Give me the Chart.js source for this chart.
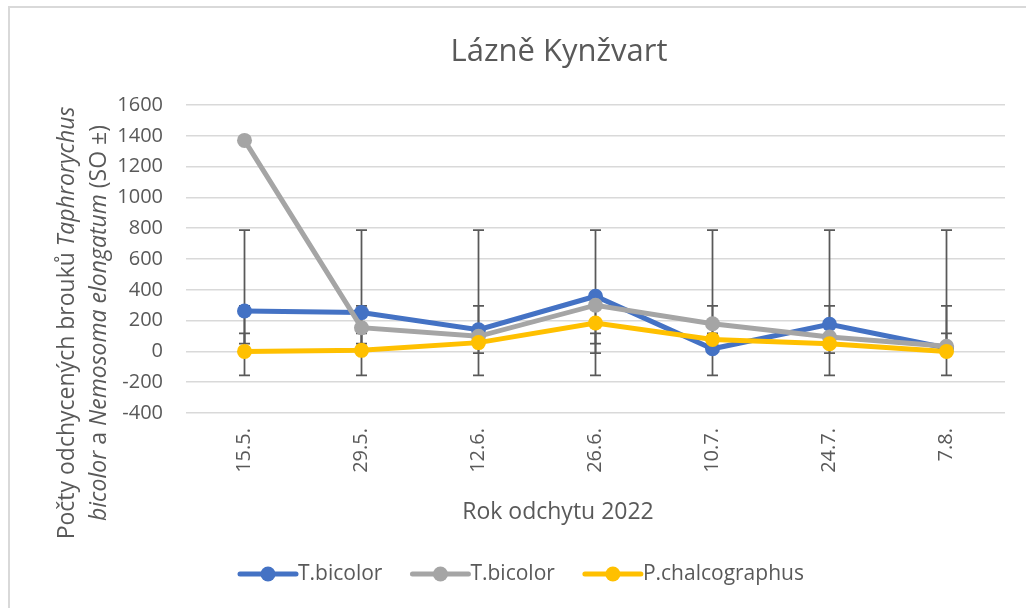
<!DOCTYPE html>
<html>
<head>
<meta charset="utf-8">
<script src="https://cdn.jsdelivr.net/npm/chart.js@4"></script>
<style>
  html, body { margin: 0; padding: 0; background: #fff; }
  #wrap { width: 1026px; height: 608px; }
</style>
</head>
<body>
<div id="wrap"><canvas id="chart"></canvas></div>
<script>
const labels = ['15.5.', '29.5.', '12.6.', '26.6.', '10.7.', '24.7.', '7.8.'];
const seriesNames = ['T.bicolor', 'T.bicolor', 'P.chalcographus'];
const blueValues = [262, 252, 141, 358, 17, 176, 22];
const grayValues = [1370, 154, 98, 300, 180, 93, 33];
const yellowValues = [0, 7, 57, 184, 78, 50, 0];
// error bar ranges (mean -/+ SD of each series), low / high
const blueErr = [50, 296];
const grayErr = [-156, 788];
const yellowErr = [-11, 117];
const yTicks = [-400, 1600, 200]; // min, max, step

const colors = ['#4472C4', '#A5A5A5', '#FFC000'];
const textColor = '#595959';
const FONT = '"Open Sans", sans-serif';

// draws error bars under the lines
const errorBars = {
    id: 'errorBars',
    beforeDatasetsDraw(chart) {
        const ctx = chart.ctx;
        const x = chart.scales.x, y = chart.scales.y;
        ctx.save();
        ctx.strokeStyle = '#595959';
        ctx.lineWidth = 1.75;
        [blueErr, grayErr, yellowErr].forEach(function (err) {
            labels.forEach(function (l, i) {
                const px = x.getPixelForValue(i);
                const lo = y.getPixelForValue(err[0]);
                const hi = y.getPixelForValue(err[1]);
                ctx.beginPath();
                ctx.moveTo(px, lo); ctx.lineTo(px, hi);
                ctx.moveTo(px - 5.5, lo); ctx.lineTo(px + 5.5, lo);
                ctx.moveTo(px - 5.5, hi); ctx.lineTo(px + 5.5, hi);
                ctx.stroke();
            });
        });
        ctx.restore();
    }
};

// titles, legend and frame
const decorations = {
    id: 'decorations',
    afterDraw(chart) {
        const ctx = chart.ctx;
        ctx.save();

        // frame
        ctx.strokeStyle = '#d9d9d9';
        ctx.lineWidth = 2;
        ctx.beginPath();
        ctx.moveTo(9, 608); ctx.lineTo(9, 7); ctx.lineTo(1026, 7);
        ctx.stroke();

        ctx.fillStyle = textColor;
        ctx.textBaseline = 'middle';
        ctx.textAlign = 'center';
        ctx.font = '31px ' + FONT;
        ctx.fillText('Lázně Kynžvart', 559, 52);

        ctx.font = '23px ' + FONT;
        ctx.fillText('Rok odchytu 2022', 558, 512);

        // y axis title, mixed upright / italic
        const lines = [
            [['Počty odchycených brouků ', false], ['Taphrorychus', true]],
            [['bicolor', true], [' a ', false], ['Nemosoma elongatum', true], [' (SO ±)', false]]
        ];
        const fontFor = function (it) { return (it ? 'italic ' : '') + '23px ' + FONT; };
        ctx.textAlign = 'left';
        [67, 99].forEach(function (lx, li) {
            const parts = lines[li];
            let total = 0;
            parts.forEach(function (p) { ctx.font = fontFor(p[1]); total += ctx.measureText(p[0]).width; });
            ctx.save();
            ctx.translate(lx, 323);
            ctx.rotate(-Math.PI / 2);
            let cx = -total / 2;
            parts.forEach(function (p) {
                ctx.font = fontFor(p[1]);
                ctx.fillText(p[0], cx, 0);
                cx += ctx.measureText(p[0]).width;
            });
            ctx.restore();
        });

        // legend
        ctx.font = '21px ' + FONT;
        let lx = 240;
        const ly = 574;
        seriesNames.forEach(function (name, i) {
            ctx.strokeStyle = colors[i];
            ctx.lineWidth = 5;
            ctx.lineCap = 'round';
            ctx.beginPath();
            ctx.moveTo(lx, ly); ctx.lineTo(lx + 56, ly);
            ctx.stroke();
            ctx.fillStyle = colors[i];
            ctx.beginPath();
            ctx.arc(lx + 28, ly, 7.5, 0, Math.PI * 2);
            ctx.fill();
            ctx.fillStyle = textColor;
            ctx.fillText(name, lx + 58, ly);
            lx += 58 + ctx.measureText(name).width + 30;
        });
        ctx.restore();
    }
};

function makeDataset(label, data, color, order) {
    return {
        label: label,
        data: data,
        borderColor: color,
        backgroundColor: color,
        borderWidth: 5,
        pointRadius: 7.5,
        pointHoverRadius: 7.5,
        pointBorderWidth: 0,
        tension: 0,
        order: order
    };
}

new Chart(document.getElementById('chart'), {
    type: 'line',
    data: {
        labels: labels,
        datasets: [
            makeDataset(seriesNames[0], blueValues, colors[0], 3),
            makeDataset(seriesNames[1], grayValues, colors[1], 2),
            makeDataset(seriesNames[2], yellowValues, colors[2], 1)
        ]
    },
    options: {
        responsive: true,
        maintainAspectRatio: false,
        animation: false,
        layout: { padding: { top: 105, right: 21, bottom: 0, left: 0 } },
        plugins: {
            legend: { display: false },
            title: { display: false },
            tooltip: { enabled: false }
        },
        scales: {
            x: {
                offset: true,
                grid: { display: false, drawTicks: false },
                border: { display: false },
                ticks: {
                    autoSkip: false,
                    minRotation: 90,
                    maxRotation: 90,
                    padding: 15,
                    color: textColor,
                    font: { family: FONT, size: 20 }
                },
                afterFit: function (scale) { scale.height = 195; }
            },
            y: {
                min: yTicks[0],
                max: yTicks[1],
                grid: { color: '#d9d9d9', lineWidth: 1.5, drawTicks: false },
                border: { display: false },
                ticks: {
                    stepSize: yTicks[2],
                    padding: 23,
                    color: textColor,
                    font: { family: FONT, size: 20 },
                    callback: function (v) { return String(v); }
                },
                afterFit: function (scale) { scale.width = 186; }
            }
        }
    },
    plugins: [errorBars, decorations]
});
</script>
</body>
</html>
